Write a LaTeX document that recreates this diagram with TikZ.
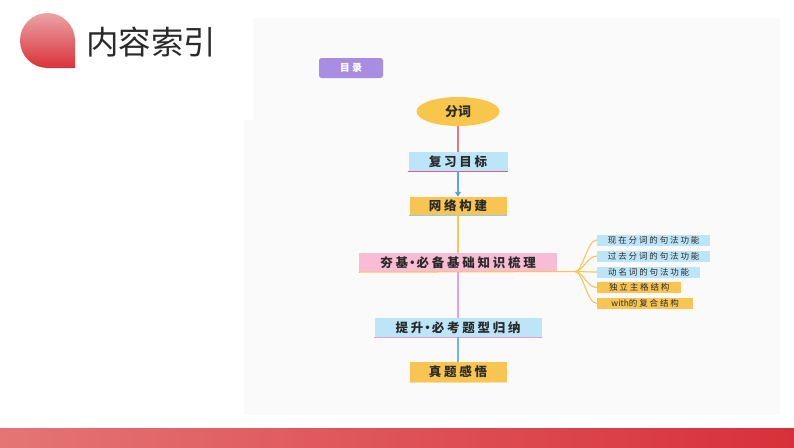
\documentclass[tikz,border=0pt]{standalone}
\usepackage{fontspec}
\setmainfont{Noto Sans CJK SC}
\newfontfamily\cjk{Noto Sans CJK SC}
\newfontfamily\cjksp{Noto Sans CJK SC}[LetterSpace=22]
\usetikzlibrary{shapes.geometric,arrows.meta}
\definecolor{panel}{HTML}{FAFAFA}
\definecolor{lblue}{HTML}{BDE5F8}
\definecolor{gold}{HTML}{F8C552}
\definecolor{lpink}{HTML}{F8BCD4}
\definecolor{ellc}{HTML}{F8C64A}
\definecolor{purp}{HTML}{A98DE3}
\definecolor{redl}{HTML}{E0788A}
\definecolor{redb}{HTML}{D8608A}
\definecolor{bluel}{HTML}{5BA3DC}
\definecolor{blueb}{HTML}{8ECFEF}
\definecolor{yell}{HTML}{F5C65A}
\definecolor{magl}{HTML}{E8A0D8}
\definecolor{pinkb}{HTML}{E89CC8}
\definecolor{teal}{HTML}{6FB8CF}
\definecolor{ltyel}{HTML}{F8E0A0}
\definecolor{txt}{HTML}{2A2A2A}
\definecolor{barl}{HTML}{E47575}
\definecolor{barr}{HTML}{D8303A}
\definecolor{dropt}{HTML}{EBA3A5}
\definecolor{dropb}{HTML}{D9323A}
\newcommand{\mydot}{\hspace{-2pt}·\hspace{-2pt}}
\tikzset{
  mainbox/.style={rectangle, inner sep=0pt, text=txt, font=\cjksp\bfseries\fontsize{12.5}{12.5}\selectfont},
  childbox/.style={rectangle, inner sep=0pt, anchor=west, minimum height=11pt, text=txt, font=\cjksp\fontsize{8.5}{8.5}\selectfont},
  conn/.style={line width=1.3pt},
  branch/.style={line width=1.1pt, draw=yell}
}
\begin{document}
\begin{tikzpicture}[x=1pt,y=-1pt]
\useasboundingbox (0,0) rectangle (794,447);
\fill[white] (0,0) rectangle (794,447);
% panel
\fill[panel] (253,18) rectangle (780,415);
\fill[panel] (244,120) rectangle (253,415);
% bottom bar
\shade[left color=barl, right color=barr] (0,428) rectangle (794,447);
% title drop
\shade[top color=dropt, bottom color=dropb] (75,68) -- (75,40.5) arc[start angle=0, end angle=-270, radius=27.5] -- cycle;
\node[anchor=west, text=txt, font=\cjk\fontsize{32.5}{32.5}\selectfont, inner sep=0pt] (title) at (86,42) {内容索引};
% 目录
\node[rectangle, rounded corners=2.5pt, fill=purp, minimum width=64pt, minimum height=20pt, inner sep=0pt, text=white, font=\cjksp\bfseries\fontsize{10}{10}\selectfont] (ml) at (351,68) {目录};
% main nodes
\node[ellipse, fill=ellc, minimum width=83pt, minimum height=29pt, inner sep=0pt, text=txt, font=\cjk\bfseries\fontsize{13}{13}\selectfont] (fc) at (458,111.5) {分词};
\node[mainbox, fill=lblue, minimum width=99pt, minimum height=19pt] (fx) at (458,161.5) {复习目标};
\node[mainbox, fill=gold, minimum width=97pt, minimum height=18pt] (wl) at (458,206) {网络构建};
\node[mainbox, fill=lpink, minimum width=198pt, minimum height=19pt] (hj) at (458,262.5) {夯基\mydot 必备基础知识梳理};
\node[mainbox, fill=lblue, minimum width=167pt, minimum height=19pt] (ts) at (458,327.5) {提升\mydot 必考题型归纳};
\node[mainbox, fill=gold, minimum width=97pt, minimum height=20pt] (zt) at (458,372) {真题感悟};
% bottom borders
\draw[redb, line width=1pt] (fx.south west) -- (fx.south east);
\draw[blueb, line width=1pt] (wl.south west) -- (wl.south east);
\coordinate (br) at (575,271.5);
\draw[yell, line width=1.1pt] (hj.south west) -- (br);
\draw[pinkb, line width=1pt] (ts.south west) -- (ts.south east);
\draw[ltyel, line width=1pt] (zt.south west) -- (zt.south east);
% connectors
\draw[conn, redl] (fc.south) -- (fx.north);
\draw[conn, bluel, -{Triangle[length=5pt,width=6pt]}] (fx.south) -- (wl.north);
\draw[conn, yell] (wl.south) -- (hj.north);
\draw[conn, magl] (hj.south) -- (ts.north);
\draw[conn, teal] (ts.south) -- (zt.north);
% children
\node[childbox, fill=lblue, minimum width=113pt] (c1) at (597,240) {现在分词的句法功能};
\node[childbox, fill=lblue, minimum width=113pt] (c2) at (597,256) {过去分词的句法功能};
\node[childbox, fill=lblue, minimum width=103pt] (c3) at (597,272) {动名词的句法功能};
\node[childbox, fill=gold, minimum width=84pt] (c4) at (597,287.5) {独立主格结构};
\node[childbox, fill=gold, minimum width=96pt] (c5) at (597,303.5) {{\cjk\fontsize{8.5}{8.5}\selectfont with}的复合结构};
\foreach \c in {c1,c2,c3,c4,c5}{
  \draw[branch] (br) .. controls +(8,0) and +(-10,0) .. (\c.west);
}
\end{tikzpicture}
\end{document}
